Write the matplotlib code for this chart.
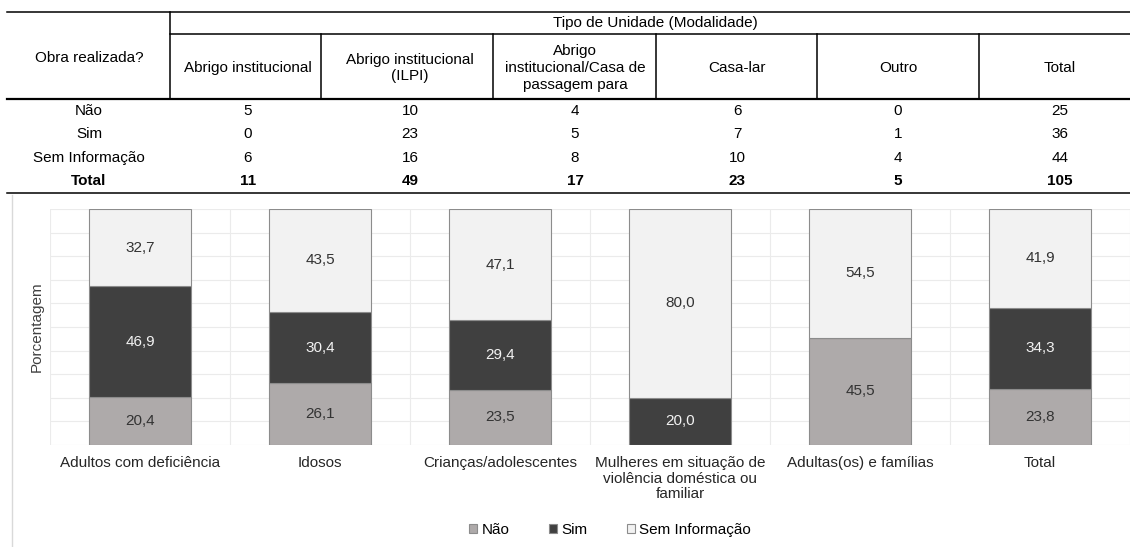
import matplotlib.pyplot as plt
import numpy as np

plt.rcParams['font.family'] = ['Liberation Sans', 'DejaVu Sans']

# tabela
cabecalhos = ['Abrigo institucional', 'Abrigo institucional\n(ILPI)',
              'Abrigo\ninstitucional/Casa de\npassagem para', 'Casa-lar', 'Outro', 'Total']
linhas = ['Não', 'Sim', 'Sem Informação', 'Total']
nao_n = [5, 10, 4, 6, 0, 25]
sim_n = [0, 23, 5, 7, 1, 36]
sem_n = [6, 16, 8, 10, 4, 44]
total_n = [11, 49, 17, 23, 5, 105]

# grafico
categorias = ['Adultos com deficiência', 'Idosos', 'Crianças/adolescentes',
              'Mulheres em situação de\nviolência doméstica ou\nfamiliar',
              'Adultas(os) e famílias', 'Total']
nao_pct = [20.4, 26.1, 23.5, 0.0, 45.5, 23.8]
sim_pct = [46.9, 30.4, 29.4, 20.0, 0.0, 34.3]
sem_pct = [32.7, 43.5, 47.1, 80.0, 54.5, 41.9]

W, H = 1130, 547
fs = 11
fig = plt.figure(figsize=(W / 100, H / 100), dpi=100)

# eixo de fundo em pixels para a tabela
bg = fig.add_axes([0, 0, 1, 1])
bg.set_xlim(0, W)
bg.set_ylim(H, 0)
bg.axis('off')

bg.plot([7, W], [12, 12], color='black', lw=1.1)
bg.plot([170, W], [33.5, 33.5], color='black', lw=1.1)
bg.plot([7, W], [98.5, 98.5], color='black', lw=1.6)
bg.plot([7, W], [193, 193], color='black', lw=1.1)
bg.plot([170, 170], [12, 98.5], color='black', lw=1.1)
for xs in [321, 493, 656, 817, 979]:
    bg.plot([xs, xs], [33.5, 98.5], color='black', lw=1.1)

bg.text(655, 23, 'Tipo de Unidade (Modalidade)', ha='center', va='center', fontsize=fs)
bg.text(89, 58, 'Obra realizada?', ha='center', va='center', fontsize=fs)
col_x = [248, 410, 575, 737, 898, 1060]
for cx, h in zip(col_x, cabecalhos):
    bg.text(cx, 68, h, ha='center', va='center', fontsize=fs, linespacing=1.25)

for i, (lab, vals) in enumerate(zip(linhas, [nao_n, sim_n, sem_n, total_n])):
    y = 111 + i * 23.4
    peso = 'bold' if lab == 'Total' else 'normal'
    bg.text(89, y, lab, ha='center', va='center', fontsize=fs, fontweight=peso)
    for cx, v in zip(col_x, vals):
        bg.text(cx, y, str(v), ha='center', va='center', fontsize=fs, fontweight=peso)

# borda do grafico
bg.plot([12, 12], [195, H], color='#d9d9d9', lw=1)

ax = fig.add_axes([50 / W, (H - 445) / H, 1080 / W, 236 / H])
ax.patch.set_visible(False)

x = np.arange(len(categorias))
larg = 0.57
base2 = np.array(nao_pct)
base3 = base2 + np.array(sim_pct)
b1 = ax.bar(x, nao_pct, larg, color='#aeaaaa', edgecolor='#8c8c8c', lw=0.8, label='Não')
b2 = ax.bar(x, sim_pct, larg, bottom=base2, color='#404040', edgecolor='#8c8c8c', lw=0.8, label='Sim')
b3 = ax.bar(x, sem_pct, larg, bottom=base3, color='#f2f2f2', edgecolor='#8c8c8c', lw=0.8,
            label='Sem Informação')

for cont, vals, cor in [(b1, nao_pct, '#333333'), (b2, sim_pct, '#f2f2f2'), (b3, sem_pct, '#333333')]:
    rot = [f'{v:.1f}'.replace('.', ',') if v > 0 else '' for v in vals]
    ax.bar_label(cont, labels=rot, label_type='center', color=cor, fontsize=fs)

ax.set_xlim(-0.5, len(categorias) - 0.5)
ax.set_ylim(0, 100)
ax.set_yticks(np.arange(0, 101, 10))
ax.set_xticks(x)
ax.set_xticklabels(categorias, fontsize=fs, color='#262626', linespacing=1.15)
ax.set_xticks(np.arange(-0.5, len(categorias), 1), minor=True)
ax.yaxis.grid(True, color='#ebebeb', lw=0.8)
ax.xaxis.grid(True, which='minor', color='#ebebeb', lw=0.8)
ax.set_axisbelow(True)
ax.tick_params(axis='y', length=0, labelleft=False)
ax.tick_params(axis='x', which='both', length=0, pad=8)
for s in ax.spines.values():
    s.set_visible(False)

ax.set_ylabel('Porcentagem', fontsize=fs, color='#404040')
ax.yaxis.set_label_coords(-6 / 1080, 0.5)

fig.legend(handles=[b1, b2, b3], loc='center', bbox_to_anchor=(610 / W, (H - 530) / H),
           ncol=3, frameon=False, handlelength=0.55, handleheight=0.55,
           handletextpad=0.25, columnspacing=2.6, fontsize=fs)

fig.savefig('out.png', dpi=100)
